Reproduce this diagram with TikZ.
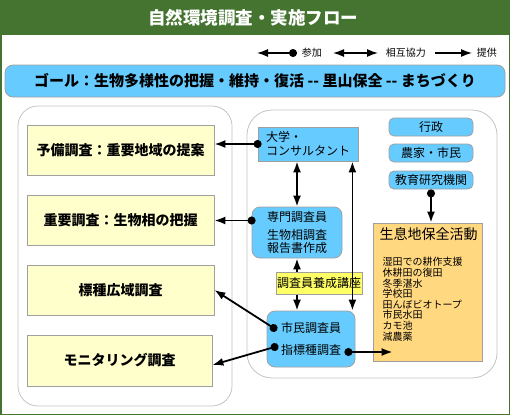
\documentclass[tikz,border=0pt]{standalone}
\usepackage{fontspec}
\setmainfont{Noto Sans CJK JP}
\usetikzlibrary{arrows.meta,calc}
\definecolor{hdrgreen}{RGB}{68,116,47}
\definecolor{lightyellow}{HTML}{FFFFCC}
\definecolor{skyblue}{HTML}{66CCFF}
\definecolor{courseyellow}{HTML}{FFFF66}
\definecolor{actorange}{HTML}{FFD880}
\definecolor{boxgray}{HTML}{A0A0A0}
\definecolor{framegray}{HTML}{C4C4C4}

\begin{document}
\begin{tikzpicture}[x=1pt,y=-1pt,line width=1.8pt,
  survey/.style={draw=boxgray,line width=.8pt,fill=lightyellow,minimum width=187pt,minimum height=50pt,inner sep=0pt,font=\fontsize{14}{16}\selectfont\bfseries},
  actor/.style={draw=boxgray,line width=.8pt,fill=skyblue,inner sep=0pt,font=\fontsize{12}{14}\selectfont},
  round actor/.style={actor,rounded corners=8pt},
  small actor/.style={actor,rounded corners=5pt,minimum width=84pt,minimum height=18pt},
  legendtext/.style={anchor=west,inner sep=0pt,font=\fontsize{10}{12}\selectfont},
  takepart/.style={{Circle[length=8pt]}-{Latex[length=11pt,width=8pt]},shorten <=-4pt},
  mutual/.style={{Latex[length=11pt,width=8pt]}-{Latex[length=11pt,width=8pt]}},
  supply/.style={-{Latex[length=11pt,width=8pt]}}]
  % frame and header
  \fill[white] (0,0) rectangle (510,415);
  \fill[hdrgreen] (0,0) rectangle (510,35);
  \draw[hdrgreen,line width=1.5pt] (0.75,0.75) rectangle (509.25,414.25);
  \node[white,font=\fontsize{17.5}{20}\selectfont\bfseries] (title) at (253,18) {自然環境調査・実施フロー};
  % legend
  \node[legendtext] (lg1) at (301,53) {参加};
  \node[legendtext] (lg2) at (385,53) {相互協力};
  \node[legendtext] (lg3) at (476,53) {提供};
  \draw[takepart,line width=1.4pt] ([xshift=-8pt]lg1.west) -- ++(-36,0);
  \draw[mutual,line width=1.4pt] ([xshift=-7pt]lg2.west) -- ++(-45,0);
  \draw[supply,line width=1.4pt] ([xshift=-41pt]lg3.west) -- ++(37,0);
  % goal
  \node[draw=boxgray,line width=.8pt,fill=skyblue,rounded corners=8pt,minimum width=500pt,minimum height=32pt,inner sep=0pt,font=\fontsize{15}{18}\selectfont\bfseries] (goal) at (255,81) {ゴール：生物多様性の把握・維持・復活 -{}- 里山保全 -{}- まちづくり};
  % containers
  \draw[framegray,line width=.8pt,rounded corners=20pt] (18,106) rectangle (232,406);
  \draw[framegray,line width=.8pt,rounded corners=25pt] (247,110) rectangle (497,378);
  % surveys
  \node[survey] (prelim) at (120.5,150) {予備調査：重要地域の提案};
  \node[survey] (key) at (120.5,220.5) {重要調査：生物相の把握};
  \node[survey] (wide) at (120.5,290) {標種広域調査};
  \node[survey,minimum width=185pt,minimum height=51pt] (monitor) at (119.5,360.5) {モニタリング調査};
  % actors
  \node[actor,minimum width=100pt,minimum height=34pt,align=left] (univ) at (308,144) {大学・\\コンサルタント};
  \node[round actor,minimum width=90pt,minimum height=51pt,align=center,font=\fontsize{12}{13}\selectfont] (expert) at (297,232.5) {専門調査員\\[5pt]生物相調査\\報告書作成};
  \node[round actor,minimum width=88pt,minimum height=56pt,align=center,font=\fontsize{12}{21.5}\selectfont] (citizen) at (311,339) {市民調査員\\指標種調査};
  \node[small actor] (gov) at (431,127) {行政};
  \node[small actor] (farm) at (431,153) {農家・市民};
  \node[small actor] (edu) at (431,180) {教育研究機関};
  \node[draw=boxgray,line width=.8pt,fill=actorange,minimum width=109pt,minimum height=138pt,inner sep=0pt] (act) at (427.5,292) {};
  \node[anchor=north west,inner sep=0pt,font=\fontsize{14}{16}\selectfont] (acttitle) at ($(act.north west)+(6,4)$) {生息地保全活動};
  \node[anchor=north west,inner sep=0pt,align=left,font=\fontsize{10}{10.6}\selectfont] (actlist) at ($(act.north west)+(9,34)$) {湿田での耕作支援\\休耕田の復田\\冬季湛水\\学校田\\田んぼビオトープ\\市民水田\\カモ池\\減農薬};
  % connectors
  \draw[takepart] (univ.west) -- (univ.west -| prelim.east);
  \draw[takepart] (key.east -| expert.west) -- (key.east);
  \draw[mutual] (univ.south -| expert.north) -- (expert.north);
  \draw[mutual] (expert.south) -- (expert.south |- citizen.north);
  \node[draw=boxgray,line width=.8pt,fill=courseyellow,minimum width=86pt,minimum height=22pt,inner sep=0pt,font=\fontsize{12}{14}\selectfont] (course) at (319,283) {調査員養成講座};
  \coordinate (cn) at ([xshift=-3pt]citizen.north east);
  \draw[mutual] (cn) -- (cn |- univ.south);
  \draw[takepart,shorten <=0pt] (edu.south) -- (edu.south |- act.north);
  \coordinate (d1) at ($(citizen.west)+(7,-11)$);
  \coordinate (d2) at ($(citizen.west)+(8,8)$);
  \coordinate (d3) at ($(citizen.east)+(-7,13)$);
  \draw[takepart] (d1) -- (wide.east);
  \draw[takepart] (d2) -- ([yshift=-4.5pt]monitor.east);
  \draw[takepart] (d3) -- ($(act.west |- d3)+(20,0)$);
\end{tikzpicture}
\end{document}
